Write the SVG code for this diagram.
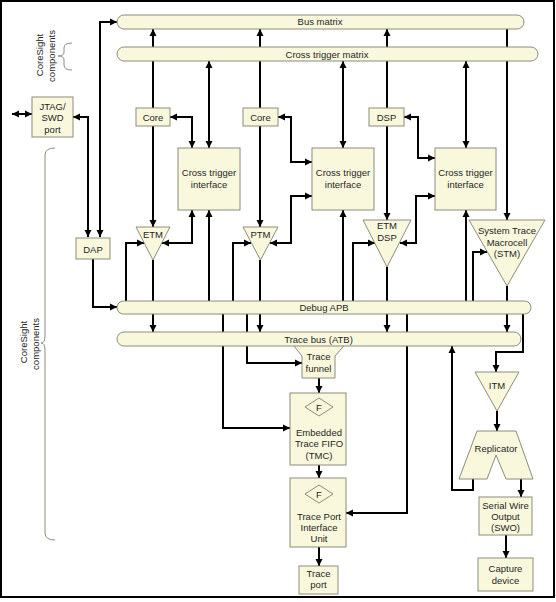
<svg xmlns="http://www.w3.org/2000/svg" width="556" height="602" viewBox="0 0 556 602">
<style>
.n{fill:#faf8dc;stroke:#8c8c7c;stroke-width:1}
.t{font-family:"Liberation Sans",Arial,sans-serif;font-size:9.5px;fill:#1e1e1e;text-anchor:middle}
.c path{fill:none;stroke:#000;stroke-width:2}
.b{fill:none;stroke:#8c8c7c;stroke-width:1}
</style>
<defs>
<marker id="a" markerUnits="userSpaceOnUse" markerWidth="8" markerHeight="8" refX="7" refY="4" orient="auto-start-reverse" viewBox="0 0 8 8">
<path d="M0,0.5 L7,4 L0,7.5 z" fill="#000"/>
</marker>
</defs>
<rect x="1" y="1" width="553" height="596" fill="#fff" stroke="#000" stroke-width="2"/>

<g id="connectors" class="c">
<path d="M100,237 V22 H117" marker-start="url(#a)" marker-end="url(#a)"/>
<path d="M73,117 H88 V237" marker-start="url(#a)" marker-end="url(#a)"/>
<path d="M12,114 H32" marker-start="url(#a)" marker-end="url(#a)"/>
<path d="M93,259 V307 H117" marker-end="url(#a)"/>
<path d="M153,108 V29" marker-end="url(#a)"/>
<path d="M153,126 V227" marker-end="url(#a)"/>
<path d="M170,117 H192 V148" marker-start="url(#a)" marker-end="url(#a)"/>
<path d="M209,61 V148" marker-start="url(#a)" marker-end="url(#a)"/>
<path d="M192,210 V243 H162" marker-start="url(#a)" marker-end="url(#a)"/>
<path d="M209,301 V210" marker-end="url(#a)"/>
<path d="M126,301 V243 H144" marker-end="url(#a)"/>
<path d="M153,260 V332" marker-end="url(#a)"/>
<path d="M260,108 V29" marker-end="url(#a)"/>
<path d="M260,126 V227" marker-end="url(#a)"/>
<path d="M278,117 H291 V162 H312" marker-start="url(#a)" marker-end="url(#a)"/>
<path d="M270,243 H291 V196 H312" marker-start="url(#a)" marker-end="url(#a)"/>
<path d="M233,301 V243 H251" marker-end="url(#a)"/>
<path d="M260,260 V332" marker-end="url(#a)"/>
<path d="M343,61 V148" marker-start="url(#a)" marker-end="url(#a)"/>
<path d="M343,301 V210" marker-end="url(#a)"/>
<path d="M387,108 V29" marker-end="url(#a)"/>
<path d="M387,126 V220" marker-end="url(#a)"/>
<path d="M404,117 H418 V158 H435" marker-start="url(#a)" marker-end="url(#a)"/>
<path d="M400,243 H416 V196 H435" marker-start="url(#a)" marker-end="url(#a)"/>
<path d="M353,301 V243 H375" marker-end="url(#a)"/>
<path d="M387,267 V332" marker-end="url(#a)"/>
<path d="M466,61 V148" marker-start="url(#a)" marker-end="url(#a)"/>
<path d="M466,301 V210" marker-end="url(#a)"/>
<path d="M507,29 V220" marker-end="url(#a)"/>
<path d="M473,301 V252 H487" marker-end="url(#a)"/>
<path d="M507,286 V332" marker-end="url(#a)"/>
<path d="M223,314 V428 H290" marker-end="url(#a)"/>
<path d="M247,314 V363 H302" marker-end="url(#a)"/>
<path d="M407,314 V513 H346" marker-end="url(#a)"/>
<path d="M523,314 V352 H496 V372" marker-end="url(#a)"/>
<path d="M319,378 V393" marker-end="url(#a)"/>
<path d="M319,465 V478" marker-end="url(#a)"/>
<path d="M319,547 V566" marker-end="url(#a)"/>
<path d="M497,411 V431" marker-end="url(#a)"/>
<path d="M521,479 V497" marker-end="url(#a)"/>
<path d="M473,479 V490 H452 V346" marker-end="url(#a)"/>
<path d="M506,535 V558" marker-end="url(#a)"/>
</g>

<g id="braces">
<path class="b" d="M72,43 Q64,43 64,48 V52 Q64,56 58,56 Q64,56 64,60 V65 Q64,70 72,70"/>
<text class="t" transform="translate(43,55) rotate(-90)">CoreSight</text>
<text class="t" transform="translate(55,56) rotate(-90)">components</text>
<path class="b" d="M55,148 Q45,148 45,155 V336 Q45,343 41,343 Q45,343 45,350 V533 Q45,540 55,540"/>
<text class="t" transform="translate(27,342) rotate(-90)">CoreSight</text>
<text class="t" transform="translate(39,344) rotate(-90)">components</text>
</g>

<g id="bus-matrix"><rect class="n" x="117" y="15" width="407" height="14" rx="7"/><text class="t" x="320" y="25.4">Bus matrix</text></g>
<g id="cross-trigger-matrix"><rect class="n" x="117" y="47" width="421" height="14" rx="7"/><text class="t" x="327" y="57.5">Cross trigger matrix</text></g>
<g id="jtag"><rect class="n" x="32" y="97" width="41" height="40"/><text class="t" x="52.5" y="109.5">JTAG/</text><text class="t" x="52.5" y="121">SWD</text><text class="t" x="52.5" y="132.5">port</text></g>
<g id="core1"><rect class="n" x="136" y="108" width="34" height="18"/><text class="t" x="153" y="120.5">Core</text></g>
<g id="core2"><rect class="n" x="243" y="108" width="35" height="18"/><text class="t" x="260.5" y="120.5">Core</text></g>
<g id="dsp"><rect class="n" x="369" y="108" width="35" height="18"/><text class="t" x="386.5" y="120.5">DSP</text></g>
<g id="cti1"><rect class="n" x="178" y="148" width="62" height="62"/><text class="t" x="209" y="176">Cross trigger</text><text class="t" x="209" y="188">interface</text></g>
<g id="cti2"><rect class="n" x="312" y="148" width="62" height="62"/><text class="t" x="343" y="176">Cross trigger</text><text class="t" x="343" y="188">interface</text></g>
<g id="cti3"><rect class="n" x="435" y="148" width="61" height="62"/><text class="t" x="465.5" y="176">Cross trigger</text><text class="t" x="465.5" y="188">interface</text></g>
<g id="dap"><rect class="n" x="76" y="238" width="34" height="21"/><text class="t" x="93" y="252.5">DAP</text></g>
<g id="etm"><polygon class="n" points="136,227 170,227 153,260"/><text class="t" x="153" y="237.5">ETM</text></g>
<g id="ptm"><polygon class="n" points="243,227 278,227 260.5,260"/><text class="t" x="260.5" y="237.5">PTM</text></g>
<g id="etm-dsp"><polygon class="n" points="363,220 411,220 387,267"/><text class="t" x="387" y="229">ETM</text><text class="t" x="387" y="241">DSP</text></g>
<g id="stm"><polygon class="n" points="469,220 545,220 507,286"/><text class="t" x="507" y="234">System Trace</text><text class="t" x="507" y="245.5">Macrocell</text><text class="t" x="507" y="257">(STM)</text></g>
<g id="debug-apb"><rect class="n" x="117" y="301" width="414" height="13" rx="6.5"/><text class="t" x="324" y="311">Debug APB</text></g>
<g id="trace-funnel"><polygon class="n" points="289,340 302,356 302,378 335,378 335,356 349,340"/><text class="t" x="318.5" y="360">Trace</text><text class="t" x="318.5" y="371.5">funnel</text></g>
<g id="trace-bus"><rect class="n" x="117" y="332" width="404" height="14" rx="7"/><text class="t" x="318.5" y="342.5">Trace bus (ATB)</text></g>
<g id="etf"><rect class="n" x="290" y="393" width="56" height="72"/><polygon class="n" points="319,398 333,407 319,416 305,407"/><text class="t" x="319" y="410.5">F</text><text class="t" x="319" y="435.5">Embedded</text><text class="t" x="319" y="447">Trace FIFO</text><text class="t" x="319" y="458.5">(TMC)</text></g>
<g id="tpiu"><rect class="n" x="290" y="478" width="56" height="69"/><polygon class="n" points="319,485 333,494 319,503 305,494"/><text class="t" x="319" y="497.5">F</text><text class="t" x="319" y="519.5">Trace Port</text><text class="t" x="319" y="531">Interface</text><text class="t" x="319" y="542">Unit</text></g>
<g id="trace-port"><rect class="n" x="299" y="566" width="39" height="28"/><text class="t" x="318.5" y="576.5">Trace</text><text class="t" x="318.5" y="588">port</text></g>
<g id="itm"><polygon class="n" points="475,372 519,372 497,411"/><text class="t" x="497" y="389">ITM</text></g>
<g id="replicator"><polygon class="n" points="477,431 516,431 533,479 506,479 496,455 487,479 459,479"/><text class="t" x="496" y="452">Replicator</text></g>
<g id="swo"><rect class="n" x="479" y="497" width="53" height="38"/><text class="t" x="505.5" y="508.5">Serial Wire</text><text class="t" x="505.5" y="520">Output</text><text class="t" x="505.5" y="531">(SWO)</text></g>
<g id="capture"><rect class="n" x="478" y="558" width="55" height="33"/><text class="t" x="505.5" y="571.5">Capture</text><text class="t" x="505.5" y="583.5">device</text></g>
</svg>
